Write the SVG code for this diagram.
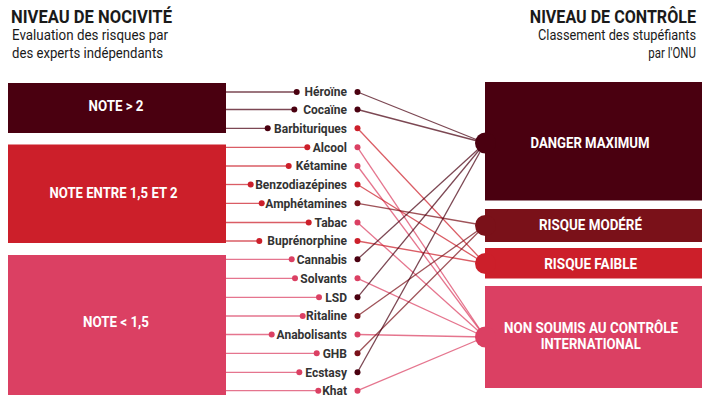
<svg xmlns="http://www.w3.org/2000/svg" width="702" height="397" viewBox="0 0 702 397">
<style>
text{font-family:Roboto,"Liberation Sans",sans-serif}
.h{font-size:19px;font-weight:bold;fill:#1a1a1a}
.s{font-size:14px;fill:#1a1a1a}
.b{font-size:14px;font-weight:bold;fill:#fff;text-anchor:middle}
.l{font-size:12px;font-weight:bold;fill:#333;text-anchor:end}
.c1{fill:#4a0010}.c2{fill:#7a1119}.c3{fill:#cc1f2a}.c4{fill:#db4063}
.k1{stroke:#4a0010}.k2{stroke:#7a1119}.k3{stroke:#cc1f2a}.k4{stroke:#db4063}
#connectors line{stroke-width:1.3;stroke-opacity:0.72;fill:none}
</style>
<g id="headers">
<text class="h" x="11" y="22.5" textLength="161" lengthAdjust="spacingAndGlyphs">NIVEAU DE NOCIVITÉ</text>
<text class="s" x="12" y="39.5" textLength="156" lengthAdjust="spacingAndGlyphs">Evaluation des risques par</text>
<text class="s" x="12" y="57.5" textLength="151" lengthAdjust="spacingAndGlyphs">des experts indépendants</text>
<text class="h" transform="translate(696 22.5) scale(0.847 1)" text-anchor="end">NIVEAU DE CONTRÔLE</text>
<text class="s" transform="translate(696 39.5) scale(0.913 1)" text-anchor="end">Classement des stupéfiants</text>
<text class="s" transform="translate(696 57.5) scale(0.82 1)" text-anchor="end">par l'ONU</text>
</g>
<g id="connectors">
<line class="k1" x1="226" y1="92" x2="296.7" y2="92"/>
<line class="k1" x1="226" y1="109.5" x2="294.3" y2="109.5"/>
<line class="k1" x1="226" y1="128.3" x2="267.7" y2="128.3"/>
<line class="k3" x1="226" y1="147.3" x2="307.3" y2="147.3"/>
<line class="k3" x1="226" y1="166" x2="288.7" y2="166"/>
<line class="k3" x1="226" y1="184.5" x2="250.7" y2="184.5"/>
<line class="k3" x1="226" y1="203.3" x2="261.7" y2="203.3"/>
<line class="k3" x1="226" y1="222.5" x2="308.7" y2="222.5"/>
<line class="k3" x1="226" y1="241" x2="259.3" y2="241"/>
<line class="k4" x1="226" y1="259.3" x2="291.7" y2="259.3"/>
<line class="k4" x1="226" y1="278.3" x2="295" y2="278.3"/>
<line class="k4" x1="226" y1="297.3" x2="319" y2="297.3"/>
<line class="k4" x1="226" y1="316" x2="302.7" y2="316"/>
<line class="k4" x1="226" y1="334.5" x2="271.7" y2="334.5"/>
<line class="k4" x1="226" y1="353.3" x2="316.7" y2="353.3"/>
<line class="k4" x1="226" y1="372.3" x2="299.3" y2="372.3"/>
<line class="k4" x1="226" y1="390.7" x2="318.3" y2="390.7"/>
<line class="k1" x1="357.5" y1="92" x2="485" y2="143"/>
<line class="k1" x1="357.5" y1="109.5" x2="485" y2="143"/>
<line class="k3" x1="357.5" y1="128.3" x2="485" y2="263.5"/>
<line class="k4" x1="357.5" y1="147.3" x2="485" y2="337"/>
<line class="k4" x1="357.5" y1="166" x2="485" y2="337"/>
<line class="k3" x1="357.5" y1="184.5" x2="485" y2="263.5"/>
<line class="k2" x1="357.5" y1="203.3" x2="485" y2="225.5"/>
<line class="k4" x1="357.5" y1="222.5" x2="485" y2="337"/>
<line class="k3" x1="357.5" y1="241" x2="485" y2="263.5"/>
<line class="k1" x1="357.5" y1="259.3" x2="485" y2="143"/>
<line class="k4" x1="357.5" y1="278.3" x2="485" y2="337"/>
<line class="k1" x1="357.5" y1="297.3" x2="485" y2="143"/>
<line class="k2" x1="357.5" y1="316" x2="485" y2="225.5"/>
<line class="k4" x1="357.5" y1="334.5" x2="485" y2="337"/>
<line class="k2" x1="357.5" y1="353.3" x2="485" y2="225.5"/>
<line class="k1" x1="357.5" y1="372.3" x2="485" y2="143"/>
<line class="k4" x1="357.5" y1="390.7" x2="485" y2="337"/>
</g>
<g id="note-sup-2">
<rect class="c1" x="8" y="83" width="218" height="50"/>
<text class="b" x="116" y="110.7" textLength="55" lengthAdjust="spacingAndGlyphs">NOTE &gt; 2</text>
</g>
<g id="note-entre">
<rect class="c3" x="8" y="144.5" width="218" height="98.5"/>
<text class="b" x="113.5" y="198.3" textLength="128" lengthAdjust="spacingAndGlyphs">NOTE ENTRE 1,5 ET 2</text>
</g>
<g id="note-inf">
<rect class="c4" x="8" y="255" width="218" height="140"/>
<text class="b" x="116" y="327.3" textLength="66" lengthAdjust="spacingAndGlyphs">NOTE &lt; 1,5</text>
</g>
<g id="danger-maximum">
<rect class="c1" x="485" y="82" width="217" height="118.5"/>
<circle class="c1" cx="485.5" cy="143" r="10.5"/>
<text class="b" x="590" y="148.3" textLength="119" lengthAdjust="spacingAndGlyphs">DANGER MAXIMUM</text>
</g>
<g id="risque-modere">
<rect class="c2" x="485" y="209" width="217" height="33"/>
<circle class="c2" cx="485.5" cy="225.5" r="10.5"/>
<text class="b" x="590.5" y="230" textLength="103" lengthAdjust="spacingAndGlyphs">RISQUE MODÉRÉ</text>
</g>
<g id="risque-faible">
<rect class="c3" x="485" y="248" width="217" height="30.5"/>
<circle class="c3" cx="485.5" cy="263.5" r="10.5"/>
<text class="b" x="590.7" y="269.3" textLength="93" lengthAdjust="spacingAndGlyphs">RISQUE FAIBLE</text>
</g>
<g id="non-soumis">
<rect class="c4" x="485" y="286" width="217" height="102"/>
<circle class="c4" cx="485.5" cy="337" r="10.5"/>
<text class="b" x="591" y="333.3" textLength="174" lengthAdjust="spacingAndGlyphs">NON SOUMIS AU CONTRÔLE</text>
<text class="b" x="590.7" y="349.3" textLength="100" lengthAdjust="spacingAndGlyphs">INTERNATIONAL</text>
</g>
<g id="heroine"><circle class="c1" cx="296.7" cy="92" r="3"/><text class="l" x="347" y="96.3">Héroïne</text><circle class="c1" cx="357.5" cy="92" r="3"/></g>
<g id="cocaine"><circle class="c1" cx="294.3" cy="109.5" r="3"/><text class="l" x="347" y="113.8">Cocaïne</text><circle class="c1" cx="357.5" cy="109.5" r="3"/></g>
<g id="barbituriques"><circle class="c1" cx="267.7" cy="128.3" r="3"/><text class="l" x="347" y="132.6">Barbituriques</text><circle class="c3" cx="357.5" cy="128.3" r="3"/></g>
<g id="alcool"><circle class="c3" cx="307.3" cy="147.3" r="3"/><text class="l" x="347" y="151.6">Alcool</text><circle class="c4" cx="357.5" cy="147.3" r="3"/></g>
<g id="ketamine"><circle class="c3" cx="288.7" cy="166" r="3"/><text class="l" x="347" y="170.3">Kétamine</text><circle class="c4" cx="357.5" cy="166" r="3"/></g>
<g id="benzodiazepines"><circle class="c3" cx="250.7" cy="184.5" r="3"/><text class="l" x="347" y="188.8">Benzodiazépines</text><circle class="c3" cx="357.5" cy="184.5" r="3"/></g>
<g id="amphetamines"><circle class="c3" cx="261.7" cy="203.3" r="3"/><text class="l" x="347" y="207.6">Amphétamines</text><circle class="c2" cx="357.5" cy="203.3" r="3"/></g>
<g id="tabac"><circle class="c3" cx="308.7" cy="222.5" r="3"/><text class="l" x="347" y="226.8">Tabac</text><circle class="c4" cx="357.5" cy="222.5" r="3"/></g>
<g id="buprenorphine"><circle class="c3" cx="259.3" cy="241" r="3"/><text class="l" x="347" y="245.3">Buprénorphine</text><circle class="c3" cx="357.5" cy="241" r="3"/></g>
<g id="cannabis"><circle class="c4" cx="291.7" cy="259.3" r="3"/><text class="l" x="347" y="263.6">Cannabis</text><circle class="c1" cx="357.5" cy="259.3" r="3"/></g>
<g id="solvants"><circle class="c4" cx="295" cy="278.3" r="3"/><text class="l" x="347" y="282.6">Solvants</text><circle class="c4" cx="357.5" cy="278.3" r="3"/></g>
<g id="lsd"><circle class="c4" cx="319" cy="297.3" r="3"/><text class="l" x="347" y="301.6">LSD</text><circle class="c1" cx="357.5" cy="297.3" r="3"/></g>
<g id="ritaline"><circle class="c4" cx="302.7" cy="316" r="3"/><text class="l" x="347" y="320.3">Ritaline</text><circle class="c2" cx="357.5" cy="316" r="3"/></g>
<g id="anabolisants"><circle class="c4" cx="271.7" cy="334.5" r="3"/><text class="l" x="347" y="338.8">Anabolisants</text><circle class="c4" cx="357.5" cy="334.5" r="3"/></g>
<g id="ghb"><circle class="c4" cx="316.7" cy="353.3" r="3"/><text class="l" x="347" y="357.6">GHB</text><circle class="c2" cx="357.5" cy="353.3" r="3"/></g>
<g id="ecstasy"><circle class="c4" cx="299.3" cy="372.3" r="3"/><text class="l" x="347" y="376.6">Ecstasy</text><circle class="c1" cx="357.5" cy="372.3" r="3"/></g>
<g id="khat"><circle class="c4" cx="318.3" cy="390.7" r="3"/><text class="l" x="347" y="395">Khat</text><circle class="c4" cx="357.5" cy="390.7" r="3"/></g>
</svg>
